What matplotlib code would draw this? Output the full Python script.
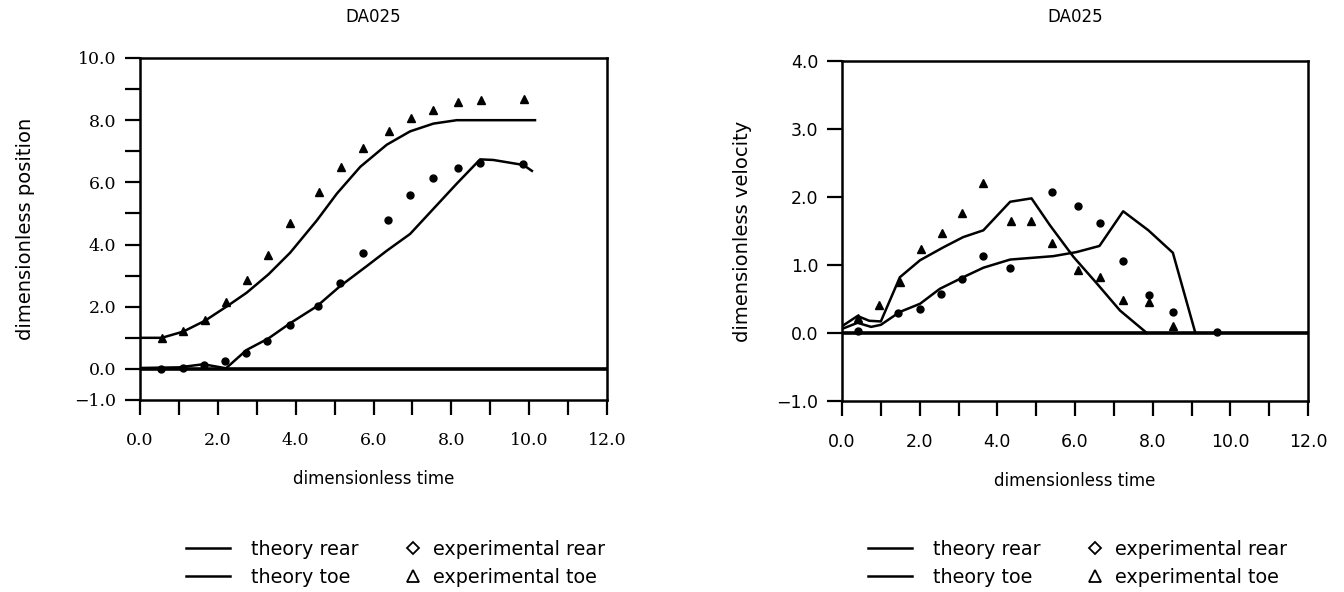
import matplotlib.pyplot as plt
from matplotlib.lines import Line2D

# ---- position panel (left) ----
pos_toe_theory_t = [0.0, 0.56, 1.11, 1.67, 2.23, 2.74, 3.30, 3.86, 4.54, 5.06, 5.66, 6.34, 6.94, 7.54, 8.14, 10.15]
pos_toe_theory_y = [1.0, 1.0, 1.2, 1.55, 2.01, 2.45, 3.04, 3.74, 4.77, 5.64, 6.50, 7.21, 7.64, 7.89, 8.0, 8.0]

pos_rear_theory_t = [0.0, 1.0, 1.63, 2.21, 2.74, 3.30, 3.86, 4.54, 5.14, 5.83, 6.34, 6.94, 7.54, 8.14, 8.74, 9.08, 9.85, 10.07]
pos_rear_theory_y = [0.03, 0.05, 0.15, 0.02, 0.61, 0.98, 1.47, 2.01, 2.66, 3.31, 3.80, 4.34, 5.15, 5.96, 6.74, 6.72, 6.56, 6.37]

pos_toe_exp_t = [0.56, 1.10, 1.67, 2.21, 2.74, 3.30, 3.86, 4.60, 5.16, 5.72, 6.40, 6.96, 7.54, 8.18, 8.76, 9.87]
pos_toe_exp_y = [1.0, 1.21, 1.58, 2.15, 2.85, 3.67, 4.68, 5.69, 6.48, 7.12, 7.66, 8.07, 8.34, 8.59, 8.65, 8.67]

pos_rear_exp_t = [0.55, 1.10, 1.65, 2.19, 2.72, 3.26, 3.86, 4.57, 5.14, 5.72, 6.38, 6.94, 7.54, 8.17, 8.74, 9.85]
pos_rear_exp_y = [0.0, 0.03, 0.12, 0.24, 0.52, 0.90, 1.42, 2.01, 2.76, 3.72, 4.80, 5.59, 6.15, 6.45, 6.61, 6.58]

# ---- velocity panel (right) ----
vel_toe_theory_t = [0.0, 0.40, 0.70, 1.0, 1.49, 2.01, 2.61, 3.12, 3.64, 4.33, 4.88, 5.36, 5.96, 6.56, 7.16, 7.85]
vel_toe_theory_y = [0.10, 0.25, 0.18, 0.17, 0.82, 1.07, 1.26, 1.41, 1.51, 1.93, 1.98, 1.58, 1.12, 0.73, 0.33, 0.0]

vel_rear_theory_t = [0.0, 0.40, 0.75, 1.0, 1.49, 2.01, 2.52, 3.12, 3.64, 4.33, 5.44, 6.04, 6.63, 7.24, 7.89, 8.52, 9.09]
vel_rear_theory_y = [0.06, 0.15, 0.09, 0.12, 0.31, 0.43, 0.65, 0.82, 0.96, 1.08, 1.13, 1.19, 1.28, 1.79, 1.51, 1.18, 0.02]

vel_toe_exp_t = [0.40, 0.96, 1.49, 2.03, 2.57, 3.10, 3.64, 4.34, 4.87, 5.42, 6.09, 6.64, 7.24, 7.91, 8.53]
vel_toe_exp_y = [0.22, 0.41, 0.75, 1.24, 1.47, 1.76, 2.20, 1.65, 1.65, 1.32, 0.92, 0.82, 0.49, 0.45, 0.10]

vel_rear_exp_t = [0.40, 1.45, 2.01, 2.55, 3.08, 3.62, 4.33, 5.42, 6.09, 6.64, 7.24, 7.91, 8.52, 9.65]
vel_rear_exp_y = [0.03, 0.29, 0.36, 0.58, 0.79, 1.13, 0.95, 2.07, 1.87, 1.62, 1.06, 0.56, 0.31, 0.02]

x_ticks = [0, 2, 4, 6, 8, 10, 12]
pos_ticks = [-1, 0, 2, 4, 6, 8, 10]
vel_ticks = [-1, 0, 1, 2, 3, 4]

plt.rcParams['font.family'] = ['DejaVu Sans']

fig = plt.figure(figsize=(13.44, 5.92), dpi=100)
ax1 = fig.add_axes([140 / 1344, 1 - 400 / 592, 467 / 1344, 342 / 592])
ax2 = fig.add_axes([842 / 1344, 1 - 401 / 592, 466 / 1344, 340 / 592])


def style_axes(ax, ylim, yticks, yminor, tick_family):
    ax.set_xlim(0, 12)
    ax.set_ylim(*ylim)
    ax.set_xticks(x_ticks)
    ax.set_xticks(range(0, 13), minor=True)
    ax.set_xticklabels([f"{v:.1f}" for v in x_ticks], family=tick_family, fontsize=12.5)
    ax.set_yticks(yticks)
    ax.set_yticks(yminor, minor=True)
    ax.set_yticklabels([f"{v:.1f}".replace('-', '\u2212') for v in yticks], family=tick_family, fontsize=12.5)
    ax.tick_params(which='both', direction='out', length=11, width=1.6, pad=6)
    ax.tick_params(axis='x', pad=12)
    for s in ax.spines.values():
        s.set_linewidth(1.8)
    ax.axhline(0, color='black', lw=2.6, zorder=1)


style_axes(ax1, (-1, 10), pos_ticks, [1, 3, 5, 7, 9], 'DejaVu Serif')
style_axes(ax2, (-1, 4), vel_ticks, [], 'DejaVu Sans')

ax1.plot(pos_toe_theory_t, pos_toe_theory_y, color='black', lw=1.8)
ax1.plot(pos_rear_theory_t, pos_rear_theory_y, color='black', lw=1.8)
ax1.plot(pos_toe_exp_t, pos_toe_exp_y, '^', color='black', ms=6, ls='none')
ax1.plot(pos_rear_exp_t, pos_rear_exp_y, 'o', color='black', ms=5, ls='none')

ax2.plot(vel_toe_theory_t, vel_toe_theory_y, color='black', lw=1.8)
ax2.plot(vel_rear_theory_t, vel_rear_theory_y, color='black', lw=1.8)
ax2.plot(vel_toe_exp_t, vel_toe_exp_y, '^', color='black', ms=6, ls='none')
ax2.plot(vel_rear_exp_t, vel_rear_exp_y, 'o', color='black', ms=5, ls='none')

ax1.set_title('DA025', fontsize=12, pad=26)
ax2.set_title('DA025', fontsize=12, pad=28)
ax1.set_xlabel('dimensionless time', fontsize=12, labelpad=15)
ax2.set_xlabel('dimensionless time', fontsize=12, labelpad=15)
ax1.set_ylabel('dimensionless position', fontsize=14)
ax2.set_ylabel('dimensionless velocity', fontsize=14)
ax1.yaxis.set_label_coords(-0.225, 0.5)
ax2.yaxis.set_label_coords(-0.193, 0.5)

# legends under each panel: theory lines, then experimental markers
line_handles = [Line2D([], [], color='black', lw=1.8), Line2D([], [], color='black', lw=1.8)]
mark_handles = [Line2D([], [], marker='D', ls='none', mfc='white', mec='black', ms=6, mew=1.3),
                Line2D([], [], marker='^', ls='none', mfc='white', mec='black', ms=9, mew=1.3)]
line_labels = ['theory rear', 'theory toe']
mark_labels = ['experimental rear', 'experimental toe']

for ax, lx, mx in [(ax1, 186, 404), (ax2, 868, 1086)]:
    leg1 = ax.legend(line_handles, line_labels, loc='upper left', bbox_to_anchor=(lx / 1344, 1 - 540 / 592),
                     bbox_transform=fig.transFigure, frameon=False, fontsize=13.8, handlelength=2.3,
                     handletextpad=1.1, labelspacing=0.45, borderpad=0, borderaxespad=0)
    ax.add_artist(leg1)
    ax.legend(mark_handles, mark_labels, loc='upper left', bbox_to_anchor=(mx / 1344, 1 - 540 / 592),
              bbox_transform=fig.transFigure, frameon=False, fontsize=13.8, handlelength=0.95,
              handletextpad=0.55, labelspacing=0.45, borderpad=0, borderaxespad=0)

fig.savefig('out.png', dpi=100)
